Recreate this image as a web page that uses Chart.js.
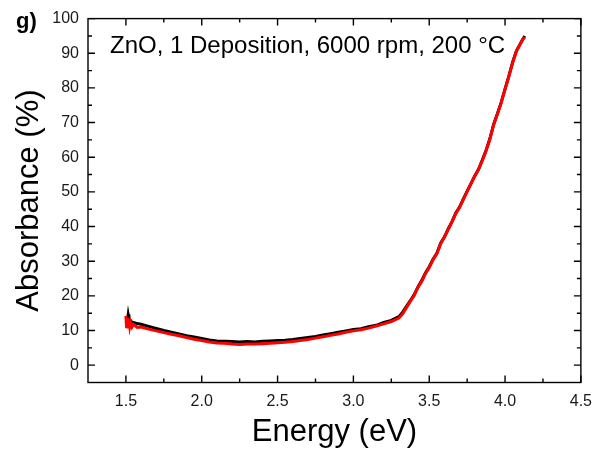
<!DOCTYPE html>
<html>
<head>
<meta charset="utf-8">
<script src="https://cdn.jsdelivr.net/npm/chart.js@4"></script>
<style>
  html, body { margin: 0; padding: 0; background: #fff; }
  #wrap { width: 601px; height: 457px; }
</style>
</head>
<body>
<div id="wrap"><canvas id="c" width="601" height="457"></canvas></div>
<script>
// Photon energy (eV) shared by both absorbance scans
const energy = [
  1.500, 1.505, 1.510, 1.515, 1.520, 1.525, 1.530, 1.540, 1.550, 1.575,
  1.600, 1.650, 1.700, 1.750, 1.800, 1.850, 1.900, 1.950, 2.000, 2.050,
  2.100, 2.150, 2.200, 2.250, 2.300, 2.350, 2.400, 2.450, 2.500, 2.550,
  2.600, 2.650, 2.700, 2.750, 2.800, 2.850, 2.900, 2.950, 3.000, 3.050,
  3.100, 3.150, 3.200, 3.250, 3.300, 3.325, 3.350, 3.375, 3.400, 3.425,
  3.450, 3.475, 3.500, 3.525, 3.550, 3.575, 3.600, 3.625, 3.650, 3.675,
  3.700, 3.725, 3.750, 3.775, 3.800, 3.825, 3.850, 3.875, 3.900, 3.925,
  3.950, 3.975, 4.000, 4.025, 4.050, 4.075, 4.100, 4.115, 4.130
];

// Absorbance (%) – first scan (black)
const absorbanceScan1 = [
  12.6, 12.2, 13.0, 14.6, 13.4, 12.6, 12.9, 12.4, 12.3, 12.0,
  11.8, 11.2, 10.6, 10.0, 9.5, 9.0, 8.5, 8.1, 7.7, 7.3,
  7.0, 6.9, 6.8, 6.7, 6.8, 6.7, 6.9, 7.0, 7.1, 7.2,
  7.4, 7.7, 8.0, 8.3, 8.7, 9.1, 9.5, 9.9, 10.3, 10.5,
  11.1, 11.5, 12.3, 12.9, 14.0, 15.3, 17.0, 18.6, 20.3, 22.5,
  24.4, 26.6, 28.4, 30.6, 32.3, 35.2, 37.0, 39.3, 41.4, 43.9,
  45.6, 48.0, 50.2, 52.4, 54.6, 56.5, 59.2, 62.0, 65.4, 69.5,
  72.6, 75.9, 79.7, 83.4, 87.4, 90.7, 92.7, 93.9, 95.0
];

// Absorbance (%) – second scan (red)
const absorbanceScan2 = [
  14.2, 10.7, 13.6, 11.0, 12.9, 11.2, 12.4, 11.0, 11.8, 10.9,
  11.0, 10.4, 9.9, 9.4, 8.9, 8.5, 8.0, 7.5, 7.1, 6.7,
  6.4, 6.3, 6.1, 6.0, 6.1, 6.1, 6.2, 6.3, 6.5, 6.6,
  6.8, 7.1, 7.4, 7.8, 8.2, 8.6, 9.0, 9.5, 9.9, 10.2,
  10.7, 11.3, 11.9, 12.6, 13.6, 14.8, 16.6, 18.4, 20.0, 22.4,
  24.1, 26.4, 28.2, 30.4, 32.1, 35.0, 36.9, 39.1, 41.3, 43.7,
  45.5, 47.8, 50.1, 52.3, 54.5, 56.4, 59.0, 61.9, 65.2, 69.4,
  72.5, 75.8, 79.6, 83.3, 87.3, 90.6, 92.6, 93.9, 94.6
];

// Axis tick values
const xTickValues = [1.5, 2.0, 2.5, 3.0, 3.5, 4.0, 4.5];
const xMinorTickValues = [1.75, 2.25, 2.75, 3.25, 3.75, 4.25];
const yTickValues = [0, 10, 20, 30, 40, 50, 60, 70, 80, 90, 100];
const yMinorTickValues = [5, 15, 25, 35, 45, 55, 65, 75, 85, 95];

const panelLabel = 'g)';
const sampleNote = 'ZnO, 1 Deposition, 6000 rpm, 200 °C';
const xTitle = 'Energy (eV)';
const yTitle = 'Absorbance (%)';

const FONT = '"Liberation Sans", Arial, Helvetica, sans-serif';

const toPoints = (ys) => energy.map((e, i) => ({ x: e, y: ys[i] }));

// Closed frame with inward ticks on all four sides, plus in-plot labels
const framePlugin = {
  id: 'frameTicks',
  afterDatasetsDraw(chart) {
    const { ctx, chartArea: a, scales: { x, y } } = chart;
    const MAJOR = 7, MINOR = 4;
    ctx.save();
    ctx.strokeStyle = '#000';
    ctx.lineWidth = 1.4;
    ctx.strokeRect(a.left, a.top, a.right - a.left, a.bottom - a.top);
    ctx.beginPath();
    const xt = (v, len) => {
      const p = x.getPixelForValue(v);
      ctx.moveTo(p, a.bottom); ctx.lineTo(p, a.bottom - len);
      ctx.moveTo(p, a.top); ctx.lineTo(p, a.top + len);
    };
    const yt = (v, len) => {
      const p = y.getPixelForValue(v);
      ctx.moveTo(a.left, p); ctx.lineTo(a.left + len, p);
      ctx.moveTo(a.right, p); ctx.lineTo(a.right - len, p);
    };
    xTickValues.forEach(v => xt(v, MAJOR));
    xMinorTickValues.forEach(v => xt(v, MINOR));
    yTickValues.forEach(v => yt(v, MAJOR));
    yMinorTickValues.forEach(v => yt(v, MINOR));
    ctx.stroke();

    ctx.fillStyle = '#000';
    ctx.textBaseline = 'alphabetic';
    ctx.textAlign = 'left';
    ctx.font = 'bold 22px ' + FONT;
    ctx.fillText(panelLabel, 16, 28);
    ctx.font = '24px ' + FONT;
    ctx.fillText(sampleNote, 110, 53);
    ctx.restore();
  }
};

new Chart(document.getElementById('c'), {
  type: 'scatter',
  data: {
    // the red scan is listed first so that it is painted over the black one
    datasets: [
      {
        label: 'Scan 2',
        data: toPoints(absorbanceScan2),
        showLine: true,
        borderColor: '#ff0000',
        borderWidth: 3,
        pointRadius: 0,
        tension: 0
      },
      {
        label: 'Scan 1',
        data: toPoints(absorbanceScan1),
        showLine: true,
        borderColor: '#000000',
        borderWidth: 3,
        pointRadius: 0,
        tension: 0
      }
    ]
  },
  options: {
    responsive: false,
    devicePixelRatio: 1,
    animation: false,
    layout: { padding: { top: 15, right: 15, left: 0, bottom: 0 } },
    plugins: {
      legend: { display: false },
      tooltip: { enabled: false }
    },
    scales: {
      x: {
        type: 'linear',
        min: 1.25,
        max: 4.5,
        afterBuildTicks: (s) => { s.ticks = xTickValues.map(v => ({ value: v })); },
        afterFit: (s) => { s.height = 74.5; },
        grid: { display: false, drawTicks: false },
        border: { display: false },
        ticks: {
          padding: 9,
          color: '#1a1a1a',
          font: { family: FONT, size: 16 },
          maxRotation: 0,
          callback: (v) => Number(v).toFixed(1)
        },
        title: {
          display: true,
          text: xTitle,
          color: '#000',
          font: { family: FONT, size: 31 },
          padding: { top: 0, bottom: 6 }
        }
      },
      y: {
        type: 'linear',
        min: -5,
        max: 100,
        afterBuildTicks: (s) => { s.ticks = yTickValues.map(v => ({ value: v })); },
        afterFit: (s) => { s.width = 88; },
        grid: { display: false, drawTicks: false },
        border: { display: false },
        ticks: {
          padding: 9,
          color: '#1a1a1a',
          font: { family: FONT, size: 16 },
          callback: (v) => String(v)
        },
        title: {
          display: true,
          text: yTitle,
          color: '#000',
          font: { family: FONT, size: 31 },
          padding: { top: 11, bottom: 0 }
        }
      }
    }
  },
  plugins: [framePlugin]
});
</script>
</body>
</html>
